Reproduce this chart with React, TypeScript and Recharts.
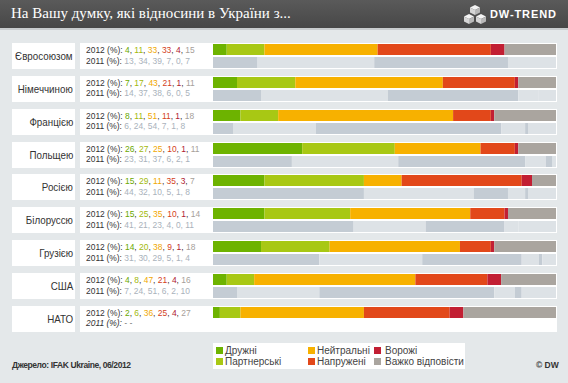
import React from 'react';
import { BarChart, Bar, XAxis, YAxis, Cell } from 'recharts';

const countries = ['Євросоюзом', 'Німеччиною', 'Францією', 'Польщею', 'Росією', 'Білоруссю', 'Грузією', 'США', 'НАТО'];

// Дружні, Партнерські, Нейтральні, Напружені, Ворожі, Важко відповісти
const values2012 = [
  [4, 11, 33, 33, 4, 15],
  [7, 17, 43, 21, 1, 11],
  [8, 11, 51, 11, 1, 18],
  [26, 27, 25, 10, 1, 11],
  [15, 29, 11, 35, 3, 7],
  [15, 25, 35, 10, 1, 14],
  [14, 20, 38, 9, 1, 18],
  [4, 8, 47, 21, 4, 16],
  [2, 6, 36, 25, 4, 27],
];

const values2011: (number[] | null)[] = [
  [13, 34, 39, 7, 0, 7],
  [14, 37, 38, 6, 0, 5],
  [6, 24, 54, 7, 1, 8],
  [23, 31, 37, 6, 2, 1],
  [44, 32, 10, 5, 1, 8],
  [41, 21, 23, 4, 0, 11],
  [31, 30, 29, 5, 1, 4],
  [7, 24, 51, 6, 2, 10],
  null, // для НАТО даних за 2011 немає
];

const seriesNames = ['Дружні', 'Партнерські', 'Нейтральні', 'Напружені', 'Ворожі', 'Важко відповісти'];
const barColors = ['#6db300', '#a8c814', '#f7b100', '#e2481a', '#c21f33', '#aaa59f'];
const textColors = ['#69a800', '#a2b90a', '#f0a800', '#d4401a', '#b01a30', '#a6a09a'];
const grey2011 = ['#c4ccd4', '#dde2e6'];

const keys = seriesNames.map((_, i) => 's' + i);

const sans = "'Liberation Sans', Arial, sans-serif";

const ROW_TOP = 43;
const ROW_STEP = 32.85;
const LINE_H = 10.6;

const toRow = (year: string, vals: number[] | null) => {
  const row: Record<string, any> = { year };
  keys.forEach((k, i) => { row[k] = vals ? vals[i] : 0; });
  return row;
};

const lineStyle: React.CSSProperties = {
  position: 'absolute', left: 0, lineHeight: LINE_H + 'px', whiteSpace: 'nowrap',
  transform: 'scaleX(0.9)', transformOrigin: 'left center'
};

const CountryRow = ({ idx }: { idx: number }) => {
  const data = [toRow('2012', values2012[idx]), toRow('2011', values2011[idx])];
  const top = ROW_TOP + idx * ROW_STEP;
  const v11 = values2011[idx];
  return (
    <>
      <div style={{
        position: 'absolute', left: 12, top, width: 63, height: 26, background: '#fff',
        display: 'flex', alignItems: 'center', justifyContent: 'flex-end', paddingRight: 2, boxSizing: 'border-box',
        fontFamily: sans, fontSize: 11, color: '#333', whiteSpace: 'nowrap'
      }}>
        <span style={{ display: 'inline-block', transform: 'scaleX(0.89)', transformOrigin: 'right center' }}>
          {countries[idx]}
        </span>
      </div>
      <div style={{ position: 'absolute', left: 80, top, width: 477, height: 26, background: '#fff' }} />
      <div style={{ position: 'absolute', left: 86, top: top + 2, fontFamily: sans, fontSize: 9.4, color: '#333' }}>
        <div style={{ ...lineStyle, top: 0 }}>
          2012 (%):{' '}
          {values2012[idx].map((v, i) => (
            <React.Fragment key={i}>
              <span style={{ color: textColors[i] }}>{v}</span>{i < 5 ? ', ' : ''}
            </React.Fragment>
          ))}
        </div>
        {v11 ? (
          <div style={{ ...lineStyle, top: LINE_H }}>
            2011 (%): <span style={{ color: '#a9b2bb' }}>{v11.join(', ')}</span>
          </div>
        ) : (
          <div style={{ ...lineStyle, top: LINE_H, fontStyle: 'italic' }}>2011 (%): - -</div>
        )}
      </div>
      <div style={{ position: 'absolute', left: 213, top }}>
        <BarChart width={343} height={26} data={data} layout="vertical"
          margin={{ top: 0, right: 0, bottom: 0, left: 0 }} barCategoryGap={1}>
          <XAxis type="number" domain={[0, 100]} hide />
          <YAxis type="category" dataKey="year" hide />
          {keys.map((k, i) => (
            <Bar key={k} dataKey={k} stackId="a" isAnimationActive={false}>
              {data.map((_, r) => (
                <Cell key={r} fill={r === 0 ? barColors[i] : grey2011[i % 2]} />
              ))}
            </Bar>
          ))}
        </BarChart>
      </div>
    </>
  );
};

const Cubes = () => (
  <svg width={24} height={22} viewBox="0 0 24 22">
    <polygon points="12,1 17,3.5 12,6 7,3.5" fill="#f4f4f4" />
    <polygon points="7,3.5 12,6 12,11 7,8.5" fill="#d6d6d6" />
    <polygon points="17,3.5 12,6 12,11 17,8.5" fill="#b8b8b8" />
    <polygon points="6,10 11,12.5 6,15 1,12.5" fill="#f4f4f4" />
    <polygon points="1,12.5 6,15 6,20 1,17.5" fill="#d6d6d6" />
    <polygon points="11,12.5 6,15 6,20 11,17.5" fill="#b8b8b8" />
    <polygon points="18,10 23,12.5 18,15 13,12.5" fill="#f4f4f4" />
    <polygon points="13,12.5 18,15 18,20 13,17.5" fill="#d6d6d6" />
    <polygon points="23,12.5 18,15 18,20 23,17.5" fill="#b8b8b8" />
  </svg>
);

const legendCols = [216, 308, 374];
const legendRows = [350, 361.3];

export default function App() {
  return (
    <div style={{ position: 'fixed', left: 0, top: 0, width: 568, height: 383, background: '#e4e8ea', overflow: 'hidden' }}>
      <div style={{
        position: 'absolute', left: 0, top: 0, width: 568, height: 28,
        background: 'linear-gradient(#5a5a5a, #474747)', borderBottom: '2px solid #c8ccce'
      }}>
        <div style={{ position: 'absolute', left: 11, top: 5, fontFamily: "'Liberation Serif', 'Times New Roman', serif", fontSize: 15, color: '#fff', whiteSpace: 'nowrap' }}>
          На Вашу думку, які відносини в України з...
        </div>
        <div style={{ position: 'absolute', left: 463, top: 4 }}>
          <Cubes />
        </div>
        <div style={{ position: 'absolute', left: 490, top: 8, fontFamily: sans, fontWeight: 'bold', fontSize: 11, letterSpacing: 0.9, color: '#fff' }}>
          DW-TREND
        </div>
      </div>

      {countries.map((_, i) => <CountryRow key={i} idx={i} />)}

      <div style={{ position: 'absolute', left: 213, top: 343, width: 252, height: 26, background: '#fff' }} />
      {seriesNames.map((n, i) => {
        const col = Math.floor(i / 2);
        const row = i % 2;
        return (
          <div key={n} style={{
            position: 'absolute', left: legendCols[col], top: legendRows[row] - 5.5, height: 11,
            display: 'flex', alignItems: 'center', whiteSpace: 'nowrap',
            fontFamily: sans, fontSize: 10, lineHeight: '11px', color: '#444'
          }}>
            <span style={{ display: 'inline-block', width: 7, height: 7, background: barColors[i], marginRight: col === 2 ? 4 : 2 }} />
            <span>{n}</span>
          </div>
        );
      })}

      <div style={{ position: 'absolute', left: 12, top: 360, fontFamily: sans, fontWeight: 'bold', fontSize: 8.5, color: '#333', letterSpacing: -0.4, whiteSpace: 'nowrap' }}>
        Джерело: IFAK Ukraine, 06/2012
      </div>
      <div style={{ position: 'absolute', left: 536, top: 360, fontFamily: sans, fontWeight: 'bold', fontSize: 8.5, color: '#333', whiteSpace: 'nowrap' }}>
        © DW
      </div>
    </div>
  );
}
